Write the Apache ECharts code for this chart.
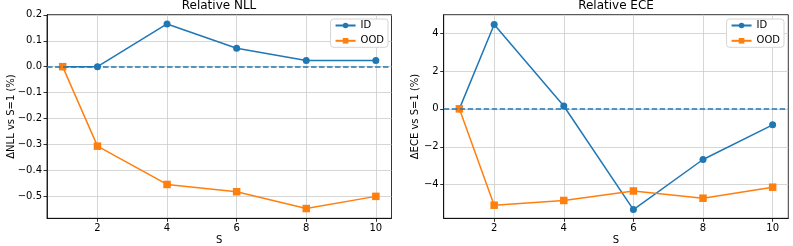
<!DOCTYPE html>
<html>
<head>
<meta charset="utf-8">
<script src="https://cdn.jsdelivr.net/npm/echarts@6/dist/echarts.min.js"></script>
<style>html,body{margin:0;padding:0;background:#fff}#c{width:793px;height:246px}</style>
</head>
<body>
<div id="c"></div>
<script>
const S = [1, 2, 4, 6, 8, 10];
const nllID = [0, 0.0, 0.165, 0.071, 0.024, 0.024];
const nllOOD = [0, -0.307, -0.455, -0.483, -0.548, -0.501];
const eceID = [0, 4.45, 0.15, -5.31, -2.67, -0.84];
const eceOOD = [0, -5.08, -4.83, -4.33, -4.71, -4.13];
const xTicks = [2, 4, 6, 8, 10];
const nllTicks = [-0.5, -0.4, -0.3, -0.2, -0.1, 0.0, 0.1, 0.2];
const eceTicks = [-4, -2, 0, 2, 4];
const titles = ['Relative NLL', 'Relative ECE'];
const yNames = ['\u0394NLL vs S=1 (%)', '\u0394ECE vs S=1 (%)'];
const xName = 'S';

const BLUE = '#1f77b4', ORANGE = '#ff7f0e';
const FONT = 'DejaVu Sans';
const minus = s => String(s).replace('-', '\u2212');

const pairs = v => S.map((s, i) => [s, v[i]]);

function xAxis(gi) {
  return {
    type: 'value', gridIndex: gi, min: 0.55, max: 10.45,
    name: xName, nameLocation: 'middle', nameGap: 17, nameMoveOverlap: false,
    nameTextStyle: {color: '#000', fontFamily: FONT, fontSize: 10},
    axisLine: {show: true, onZero: false, lineStyle: {color: '#000', width: 0.8}},
    axisTick: {show: true, length: 3.5, customValues: xTicks, lineStyle: {color: '#000', width: 0.8}},
    axisLabel: {customValues: xTicks, color: '#000', fontFamily: FONT, fontSize: 10, margin: 5},
    splitLine: {show: true, lineStyle: {color: '#cbcbcb', width: 0.8}}
  };
}
function yAxis(gi, min, max, ticks, fmt, gap) {
  return {
    type: 'value', gridIndex: gi, min: min, max: max,
    name: yNames[gi], nameLocation: 'middle', nameGap: gap, nameRotate: 90, nameMoveOverlap: false,
    nameTextStyle: {color: '#000', fontFamily: FONT, fontSize: 10},
    axisLine: {show: true, onZero: false, lineStyle: {color: '#000', width: 0.8}},
    axisTick: {show: true, length: 3.5, customValues: ticks, lineStyle: {color: '#000', width: 0.8}},
    axisLabel: {customValues: ticks, color: '#000', fontFamily: FONT, fontSize: 10, margin: 5, formatter: fmt},
    splitLine: {show: true, lineStyle: {color: '#cbcbcb', width: 0.8}}
  };
}
function series(name, data, gi, color, symbol, withLine) {
  const s = {
    name: name, type: 'line', xAxisIndex: gi, yAxisIndex: gi, data: pairs(data),
    symbol: symbol, symbolSize: symbol === 'circle' ? 7 : 7.5,
    lineStyle: {color: color, width: 1.5}, itemStyle: {color: color},
    animation: false, z: name === 'OOD' ? 3 : 2
  };
  if (withLine) {
    s.markLine = {
      silent: true, symbol: 'none', label: {show: false}, animation: false,
      lineStyle: {color: BLUE, type: [5.5, 2.5], width: 1.5},
      data: [{yAxis: 0}]
    };
  }
  return s;
}
function legend(right) {
  return {
    data: ['ID', 'OOD'], orient: 'vertical', right: right, top: 19, itemWidth: 20, itemHeight: 7, itemGap: 4.3,
    padding: [1, 4, 1, 4], backgroundColor: '#fff', borderColor: '#d5d5d5', borderWidth: 1, borderRadius: 3,
    textStyle: {fontFamily: FONT, fontSize: 10, color: '#000', lineHeight: 11}
  };
}

const chart = echarts.init(document.getElementById('c'), null, {renderer: 'canvas'});
chart.setOption({
  animation: false,
  backgroundColor: '#fff',
  title: [
    {text: titles[0], left: 219, top: 0, textAlign: 'center', padding: 0,
     textStyle: {fontFamily: FONT, fontSize: 12, fontWeight: 'normal', color: '#000'}},
    {text: titles[1], left: 616, top: 0, textAlign: 'center', padding: 0,
     textStyle: {fontFamily: FONT, fontSize: 12, fontWeight: 'normal', color: '#000'}}
  ],
  grid: [
    {left: 47, top: 14.7, width: 344.5, height: 203.6, show: true, borderColor: '#000', borderWidth: 0.8,
     containLabel: false, outerBoundsMode: 'none'},
    {left: 443.7, top: 14.7, width: 344.6, height: 203.6, show: true, borderColor: '#000', borderWidth: 0.8,
     containLabel: false, outerBoundsMode: 'none'}
  ],
  legend: [legend(405), legend(9)],
  xAxis: [xAxis(0), xAxis(1)],
  yAxis: [
    yAxis(0, -0.5857, 0.2007, nllTicks, v => minus(v.toFixed(1)), 31),
    yAxis(1, -5.77, 4.965, eceTicks, v => minus(Math.round(v)), 23.5)
  ],
  series: [
    series('ID', nllID, 0, BLUE, 'circle', false),
    series('OOD', nllOOD, 0, ORANGE, 'rect', true),
    series('ID', eceID, 1, BLUE, 'circle', false),
    series('OOD', eceOOD, 1, ORANGE, 'rect', true)
  ]
});
</script>
</body>
</html>
